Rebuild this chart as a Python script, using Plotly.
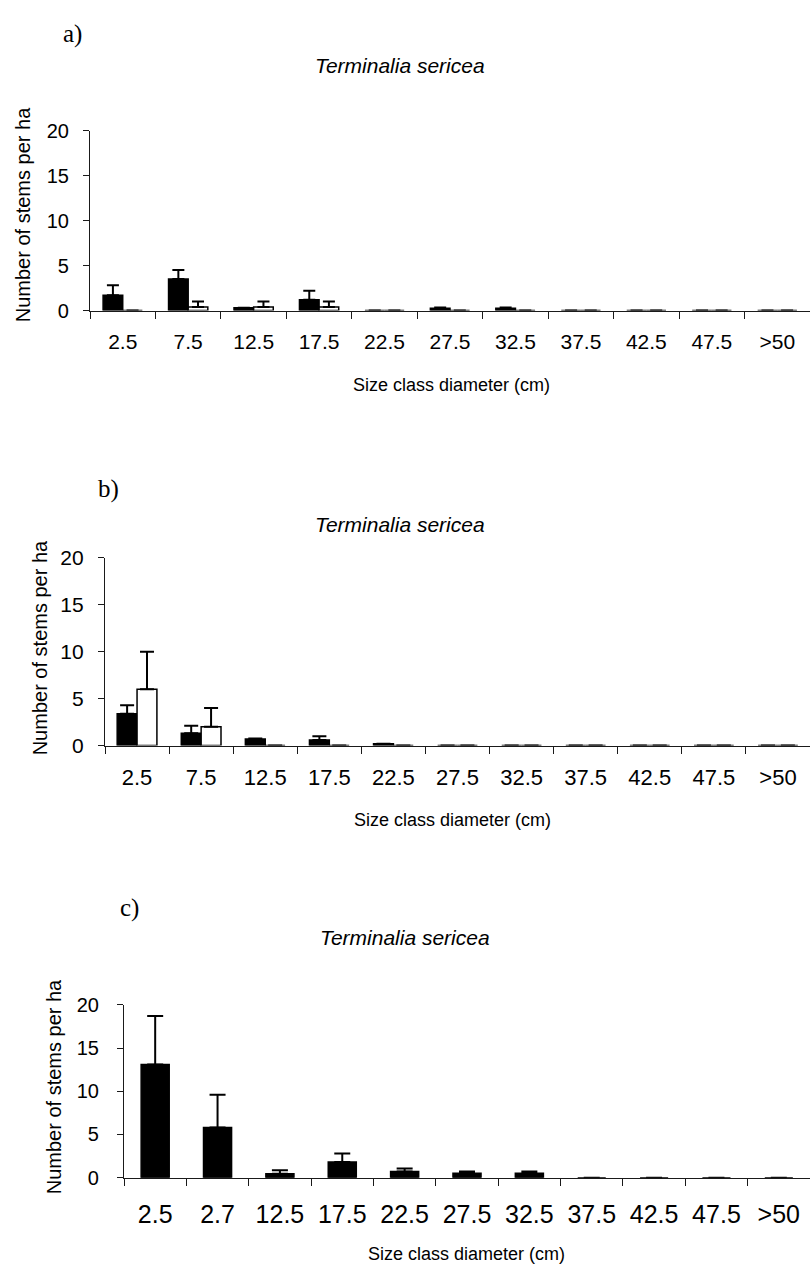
import plotly.graph_objects as go

# ---------------- data ----------------
cats_ab = ["2.5", "7.5", "12.5", "17.5", "22.5", "27.5", "32.5", "37.5", "42.5", "47.5", ">50"]
cats_c = ["2.5", "2.7", "12.5", "17.5", "22.5", "27.5", "32.5", "37.5", "42.5", "47.5", ">50"]

a_black = [1.7, 3.5, 0.3, 1.2, 0, 0.25, 0.25, 0, 0, 0, 0]
a_black_err = [1.1, 1.0, 0, 1.0, 0, 0.1, 0.1, 0, 0, 0, 0]
a_white = [0, 0.4, 0.4, 0.4, 0, 0, 0, 0, 0, 0, 0]
a_white_err = [0, 0.6, 0.6, 0.6, 0, 0, 0, 0, 0, 0, 0]

b_black = [3.4, 1.3, 0.7, 0.6, 0.2, 0, 0, 0, 0, 0, 0]
b_black_err = [0.9, 0.8, 0.05, 0.4, 0, 0, 0, 0, 0, 0, 0]
b_white = [6.0, 2.0, 0, 0, 0, 0, 0, 0, 0, 0, 0]
b_white_err = [4.0, 2.0, 0, 0, 0, 0, 0, 0, 0, 0, 0]

c_black = [13.1, 5.8, 0.45, 1.8, 0.7, 0.5, 0.5, 0, 0, 0, 0]
c_black_err = [5.6, 3.8, 0.4, 1.0, 0.35, 0.2, 0.2, 0, 0, 0, 0]

species = "Terminalia sericea"
ytitle = "Number of stems per ha"
xtitle = "Size class diameter (cm)"
yticks = [0, 5, 10, 15, 20]

# ---------------- layout helpers ----------------
W, H = 810, 1278
def px(x):
    return x / W
def py(y):
    return 1 - y / H

SANS = "Liberation Sans, Arial, sans-serif"
SERIF = "Liberation Serif, Times New Roman, serif"
AX = "#1a1a1a"

fig = go.Figure()

def bar(x, y, err, fill, width, offset, xa, ya, cap):
    n = len(y)
    fig.add_trace(go.Bar(
        x=x, y=y, width=[width] * n, offset=[offset] * n,
        marker=dict(color=fill, line=dict(color="black", width=1.5)),
        error_y=dict(type="data", symmetric=False, array=err, arrayminus=[0] * n,
                     color="black", thickness=2, width=cap),
        xaxis=xa, yaxis=ya, showlegend=False, cliponaxis=False,
    ))

# panel a
bar(cats_ab, a_black, a_black_err, "black", 0.30, -0.30, "x", "y", 6)
bar(cats_ab, a_white, a_white_err, "white", 0.30, 0.0, "x", "y", 6)
# panel b
bar(cats_ab, b_black, b_black_err, "black", 0.31, -0.31, "x2", "y2", 7)
bar(cats_ab, b_white, b_white_err, "white", 0.31, 0.0, "x2", "y2", 7)
# panel c
bar(cats_c, c_black, c_black_err, "black", 0.45, -0.225, "x3", "y3", 8)

panels = [
    # (suffix, x0px, ytop px, ybottom px, xtick size, ytick size, xstand, ystand)
    ("", 90, 121, 304, 21, 20, 12, 10),
    ("2", 105, 556, 747, 22, 21, 12, 10),
    ("3", 124, 1011, 1187, 25, 20, 14, 14),
]

for suf, x0, yt, yb, xfs, yfs, xst, yst in panels:
    fig.layout["xaxis" + suf] = dict(
        domain=[px(x0), 1.0], anchor="y" + suf, type="category",
        range=[-0.5, 10.5], showline=True, linecolor=AX, linewidth=1.2,
        ticks="outside", ticklen=7, tickwidth=1.2, tickcolor=AX, tickson="boundaries",
        showgrid=False, zeroline=False, ticklabelstandoff=xst,
        tickfont=dict(family=SANS, size=xfs, color="black"),
    )
    fig.layout["yaxis" + suf] = dict(
        domain=[py(yb), py(yt)], anchor="x" + suf, range=[0, 20],
        tickvals=yticks, showline=True, linecolor=AX, linewidth=1.2,
        ticks="outside", ticklen=6, tickwidth=1.2, tickcolor=AX,
        showgrid=False, zeroline=False, ticklabelstandoff=yst,
        tickfont=dict(family=SANS, size=yfs, color="black"),
    )

ann = []
def text(t, x, y, size, family=SANS, angle=0, italic=False):
    ann.append(dict(
        text=f"<i>{t}</i>" if italic else t, x=px(x), y=py(y), xref="paper", yref="paper",
        showarrow=False, xanchor="center", yanchor="middle", textangle=angle,
        font=dict(family=family, size=size, color="black"),
    ))

# panel labels
text("a)", 72, 22, 25, SERIF)
text("b)", 108, 486, 25, SERIF)
text("c)", 129, 912, 25, SERIF)
# species titles
text(species, 400, 54, 21, italic=True)
text(species, 400, 522, 21, italic=True)
text(species, 405, 942, 21, italic=True)
# y titles
text(ytitle, 23, 207, 20, angle=-90)
text(ytitle, 40, 648, 20, angle=-90)
text(ytitle, 54, 1095, 20, angle=-90)
# x titles
text(xtitle, 451, 380, 18)
text(xtitle, 452, 823, 18)
text(xtitle, 466, 1265, 18)

fig.update_layout(
    width=W, height=H, autosize=False,
    margin=dict(l=0, r=0, t=0, b=0),
    paper_bgcolor="white", plot_bgcolor="white",
    barmode="overlay", annotations=ann,
)

fig.write_html("out.html")
